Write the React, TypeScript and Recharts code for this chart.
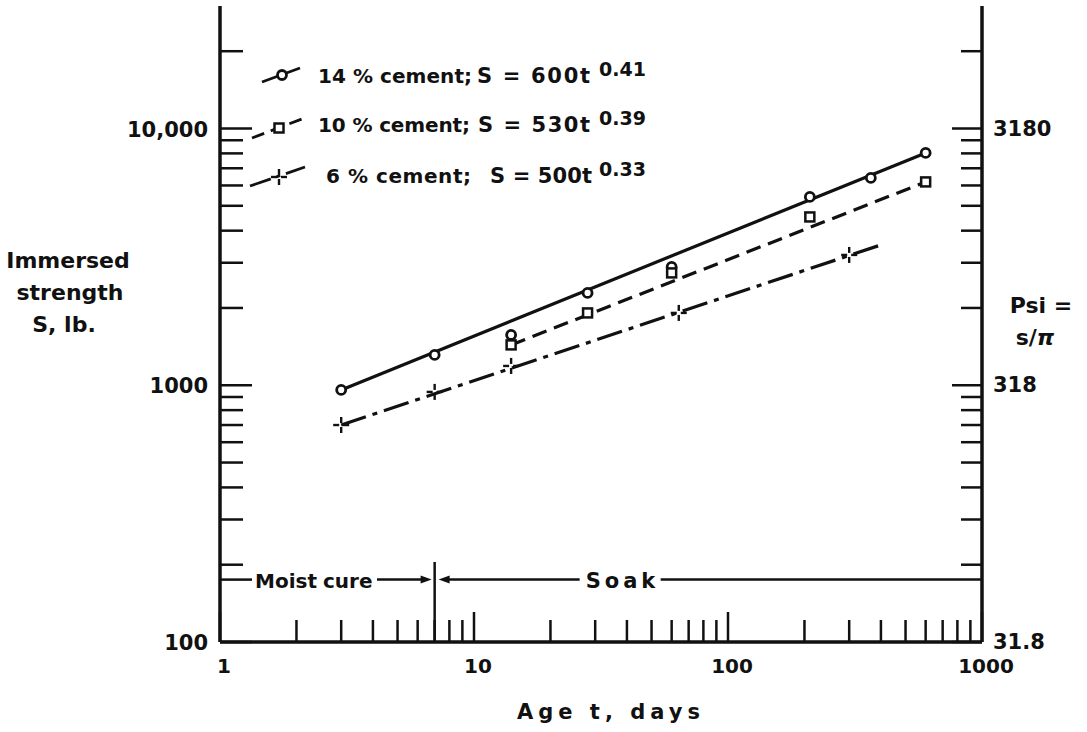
import React from "react";
import {
  ComposedChart,
  Scatter,
  XAxis,
  YAxis,
  ReferenceLine,
  Legend,
  Label,
} from "recharts";

const FONT = '"DejaVu Sans", Arial, sans-serif';
const INK = "#111";

// measured points, age t (days) vs immersed strength S (lb)
const ages14 = [3, 7, 14, 28, 60, 210, 365, 600];
const strength14 = [959, 1313, 1570, 2289, 2890, 5415, 6420, 8035];
const ages10 = [14, 28, 60, 210, 600];
const strength10 = [1436, 1913, 2739, 4524, 6194];
const ages6 = [3, 7, 14, 64, 300];
const strength6 = [700, 942, 1189, 1913, 3218];

// ends of the fitted lines as drawn
const fitAges14 = [3, 600];
const fitStrength14 = [959, 8035];
const fitAges10 = [14, 600];
const fitStrength10 = [1436, 6194];
const fitAges6 = [3, 400];
const fitStrength6 = [700, 3520];

const xTicks = [
  1, 2, 3, 4, 5, 6, 7, 8, 9, 10, 20, 30, 40, 50, 60, 70, 80, 90, 100, 200, 300,
  400, 500, 600, 700, 800, 900, 1000,
];
const yTicks = [
  100, 200, 300, 400, 500, 600, 700, 800, 900, 1000, 2000, 3000, 4000, 5000,
  6000, 7000, 8000, 9000, 10000, 20000,
];
const xTickLabels: Record<number, string> = { 1: "1", 10: "10", 100: "100", 1000: "1000" };
const leftTickLabels: Record<number, string> = { 100: "100", 1000: "1000", 10000: "10,000" };
const rightTickLabels: Record<number, string> = { 100: "31.8", 1000: "318", 10000: "3180" };

const legendLabels = ["14 % cement;", "10 % cement;", "6 % cement;"];
const legendCoefs = ["600", "530", "500"];
const legendExps = ["0.41", "0.39", "0.33"];

const SOAK_START = 7; // days of moist cure
const ANNOT_S = 175;

const pts = (ages: number[], s: number[]) => ages.map((t, i) => ({ t, s: s[i] }));

const textStyle = { fontFamily: FONT, fontWeight: 700, fill: INK } as const;

function CircleDot({ cx, cy }: any) {
  return <circle cx={cx} cy={cy} r={4.5} fill="#fff" stroke={INK} strokeWidth={2.8} />;
}
function SquareDot({ cx, cy }: any) {
  return <rect x={cx - 4.5} y={cy - 4.5} width={9} height={9} fill="#fff" stroke={INK} strokeWidth={2.5} />;
}
function CrossDot({ cx, cy }: any) {
  return (
    <g stroke={INK} strokeWidth={2.4}>
      <line x1={cx - 8} x2={cx - 2} y1={cy} y2={cy} />
      <line x1={cx + 2} x2={cx + 8} y1={cy} y2={cy} />
      <line x1={cx} x2={cx} y1={cy - 8} y2={cy - 2} />
      <line x1={cx} x2={cx} y1={cy + 2} y2={cy + 8} />
    </g>
  );
}
const NoDot = () => <g />;

function BottomTick({ x, y, payload }: any) {
  const label = xTickLabels[payload.value];
  const len = label ? 30 : 22;
  return (
    <g>
      <line x1={x} x2={x} y1={y} y2={y - len} stroke={INK} strokeWidth={2.5} />
      {label && (
        <text x={x + 4} y={y + 31} textAnchor="middle" fontSize={20} {...textStyle}>
          {label}
        </text>
      )}
    </g>
  );
}
function TopTick({ x, y, payload }: any) {
  const len = xTickLabels[payload.value] ? 31 : 21;
  return <line x1={x} x2={x} y1={y} y2={y + len} stroke={INK} strokeWidth={2.5} />;
}
function LeftTick({ x, y, payload }: any) {
  const label = leftTickLabels[payload.value];
  const len = label ? 32 : 23;
  return (
    <g>
      <line x1={x} x2={x + len} y1={y} y2={y} stroke={INK} strokeWidth={2.5} />
      {label && (
        <text x={x - 12} y={y + 8} textAnchor="end" fontSize={21} {...textStyle}>
          {label}
        </text>
      )}
    </g>
  );
}
function RightTick({ x, y, payload }: any) {
  const label = rightTickLabels[payload.value];
  const len = label ? 30 : 21;
  return (
    <g>
      <line x1={x} x2={x - len} y1={y} y2={y} stroke={INK} strokeWidth={2.5} />
      {label && (
        <text x={x + 11} y={y + 7} textAnchor="start" fontSize={21} {...textStyle}>
          {label}
        </text>
      )}
    </g>
  );
}

function MoistShape({ x1, y1, x2 }: any) {
  return (
    <g stroke={INK} strokeWidth={2.5}>
      <line x1={x1} x2={x1 + 32} y1={y1} y2={y1} />
      <text x={x1 + 35} y={y1 + 8} fontSize={20} stroke="none" {...textStyle}>
        Moist
      </text>
      <text x={x1 + 103} y={y1 + 8} fontSize={20} stroke="none" {...textStyle}>
        cure
      </text>
      <line x1={x1 + 157} x2={x2 - 8} y1={y1} y2={y1} />
      <polygon points={`${x2 - 3},${y1} ${x2 - 14},${y1 - 4} ${x2 - 14},${y1 + 4}`} fill={INK} stroke="none" />
    </g>
  );
}
function SoakShape({ x1, y1, x2 }: any) {
  return (
    <g stroke={INK} strokeWidth={2.5}>
      <polygon points={`${x1 + 4},${y1} ${x1 + 15},${y1 - 4} ${x1 + 15},${y1 + 4}`} fill={INK} stroke="none" />
      <line x1={x1 + 10} x2={x1 + 145} y1={y1} y2={y1} />
      <text x={x1 + 151} y={y1 + 8} fontSize={21} stroke="none" letterSpacing={4} {...textStyle}>
        Soak
      </text>
      <line x1={x1 + 226} x2={x2} y1={y1} y2={y1} />
    </g>
  );
}

function LegendBox() {
  const base = [83, 132, 183];
  const labelX = [318, 318, 326];
  const labelLen = [154, 152, 145];
  const eqX = [477, 478, 490];
  const eqLen = [113, 112, 102];
  return (
    <svg width={700} height={200} style={{ display: "block" }}>
      <g stroke={INK} strokeWidth={2.8} fill="none">
        <line x1={262} y1={82} x2={300} y2={68} />
        <line x1={252} y1={138} x2={302} y2={119} strokeDasharray="13 7" />
        <line x1={250} y1={186} x2={305} y2={167} strokeDasharray="22 6 4 6" />
      </g>
      <CircleDot cx={282} cy={75} />
      <SquareDot cx={279} cy={128} />
      <CrossDot cx={279} cy={177} />
      {legendLabels.map((lab, i) => (
        <g key={lab}>
          <text x={labelX[i]} y={base[i]} fontSize={20} textLength={labelLen[i]} lengthAdjust="spacing" {...textStyle}>
            {lab}
          </text>
          <text x={eqX[i]} y={base[i]} fontSize={21} textLength={eqLen[i]} lengthAdjust="spacing" {...textStyle}>
            {`S = ${legendCoefs[i]}t`}
          </text>
          <text x={599} y={base[i] - 7} fontSize={19} {...textStyle}>
            {legendExps[i]}
          </text>
        </g>
      ))}
    </svg>
  );
}

export default function App() {
  const axisLine = { stroke: INK, strokeWidth: 3.5 };
  return (
    <div style={{ position: "absolute", left: 0, top: 0, background: "#fff" }}>
      <ComposedChart width={1087} height={732} margin={{ top: 6, right: 5, bottom: 0, left: 0 }}>
        <XAxis
          xAxisId="bottom"
          dataKey="t"
          type="number"
          scale="log"
          domain={[1, 1000]}
          allowDataOverflow
          ticks={xTicks}
          interval={0}
          height={90}
          tickSize={0}
          tickMargin={0}
          tickLine={false}
          axisLine={axisLine}
          tick={<BottomTick />}
        >
          <Label
            content={() => (
              <text x={611} y={719} textAnchor="middle" fontSize={21} letterSpacing={5} {...textStyle}>
                Age t, days
              </text>
            )}
          />
        </XAxis>
        <XAxis
          xAxisId="top"
          orientation="top"
          type="number"
          scale="log"
          domain={[1, 1000]}
          allowDataOverflow
          ticks={xTicks}
          interval={0}
          height={0}
          tickSize={0}
          tickMargin={0}
          tickLine={false}
          axisLine={axisLine}
          tick={<TopTick />}
        />
        <YAxis
          yAxisId="left"
          dataKey="s"
          type="number"
          scale="log"
          domain={[100, 30000]}
          allowDataOverflow
          ticks={yTicks}
          interval={0}
          width={220}
          tickSize={0}
          tickMargin={0}
          tickLine={false}
          axisLine={axisLine}
          tick={<LeftTick />}
        >
          <Label
            content={() => (
              <g>
                <text x={68} y={268} textAnchor="middle" fontSize={22} {...textStyle}>Immersed</text>
                <text x={70} y={300} textAnchor="middle" fontSize={22} {...textStyle}>strength</text>
                <text x={64} y={332} textAnchor="middle" fontSize={22} {...textStyle}>S, lb.</text>
              </g>
            )}
          />
        </YAxis>
        <YAxis
          yAxisId="right"
          orientation="right"
          type="number"
          scale="log"
          domain={[100, 30000]}
          allowDataOverflow
          ticks={yTicks}
          interval={0}
          width={100}
          tickSize={0}
          tickMargin={0}
          tickLine={false}
          axisLine={axisLine}
          tick={<RightTick />}
        >
          <Label
            content={() => (
              <g>
                <text x={1041} y={313} textAnchor="middle" fontSize={22} {...textStyle}>Psi =</text>
                <text x={1035} y={345} textAnchor="middle" fontSize={22} {...textStyle}>
                  s/<tspan fontStyle="italic">π</tspan>
                </text>
              </g>
            )}
          />
        </YAxis>

        <ReferenceLine
          xAxisId="bottom"
          yAxisId="left"
          ifOverflow="visible"
          segment={[{ x: 1, y: ANNOT_S }, { x: SOAK_START, y: ANNOT_S }]}
          shape={MoistShape}
        />
        <ReferenceLine
          xAxisId="bottom"
          yAxisId="left"
          ifOverflow="visible"
          segment={[{ x: SOAK_START, y: ANNOT_S }, { x: 1000, y: ANNOT_S }]}
          shape={SoakShape}
        />
        <ReferenceLine
          xAxisId="bottom"
          yAxisId="left"
          ifOverflow="visible"
          segment={[{ x: SOAK_START, y: 205 }, { x: SOAK_START, y: 100 }]}
          stroke={INK}
          strokeWidth={2.5}
        />

        <Scatter
          xAxisId="bottom"
          yAxisId="left"
          data={pts(fitAges14, fitStrength14)}
          line={{ stroke: INK, strokeWidth: 3.2 }}
          shape={NoDot}
          isAnimationActive={false}
        />
        <Scatter
          xAxisId="bottom"
          yAxisId="left"
          data={pts(fitAges10, fitStrength10)}
          line={{ stroke: INK, strokeWidth: 3.2, strokeDasharray: "15 8" }}
          shape={NoDot}
          isAnimationActive={false}
        />
        <Scatter
          xAxisId="bottom"
          yAxisId="left"
          data={pts(fitAges6, fitStrength6)}
          line={{ stroke: INK, strokeWidth: 3.2, strokeDasharray: "26 7 5 7" }}
          shape={NoDot}
          isAnimationActive={false}
        />
        <Scatter xAxisId="bottom" yAxisId="left" data={pts(ages14, strength14)} shape={CircleDot} isAnimationActive={false} />
        <Scatter xAxisId="bottom" yAxisId="left" data={pts(ages10, strength10)} shape={SquareDot} isAnimationActive={false} />
        <Scatter xAxisId="bottom" yAxisId="left" data={pts(ages6, strength6)} shape={CrossDot} isAnimationActive={false} />

        <Legend
          layout="horizontal"
          verticalAlign="middle"
          align="center"
          wrapperStyle={{ left: 0, top: 0, width: 700, height: 200, pointerEvents: "none" }}
          content={LegendBox}
        />
      </ComposedChart>
    </div>
  );
}
